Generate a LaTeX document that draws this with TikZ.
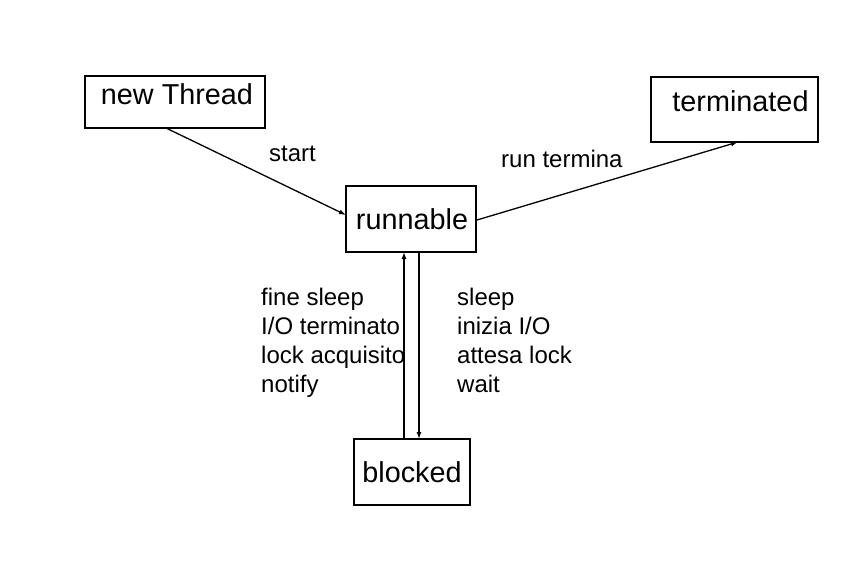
\documentclass[tikz,border=0pt]{standalone}
\usepackage{fontspec}
\setmainfont{Liberation Sans}
\usetikzlibrary{arrows.meta}
\begin{document}
\begin{tikzpicture}[x=1pt,y=-1pt,
  statebox/.style={draw,line width=1.6pt,inner sep=0pt,rectangle},
  statetext/.style={anchor=base,inner sep=0pt,font=\fontsize{28.8}{34}\selectfont},
  lbl/.style={anchor=base west,inner sep=0pt,font=\fontsize{24}{29}\selectfont},
  conn/.style={line width=1.3pt,-{Latex[length=7pt,width=5pt]}}]
\useasboundingbox (0,0) rectangle (860,576);
% boxes
\node[statebox,minimum width=180pt,minimum height=52pt] (newT) at (175,102) {};
\node[statebox,minimum width=130pt,minimum height=66pt] (run) at (411,219) {};
\node[statebox,minimum width=167pt,minimum height=65pt] (term) at (734.5,109.5) {};
\node[statebox,minimum width=116pt,minimum height=66pt] (blk) at (412,472) {};
% texts
\node[statetext] (newTt) at (177,104) {new Thread};
\node[statetext] (runt) at (412,229) {runnable};
\node[statetext] (termt) at (740.5,111) {terminated};
\node[statetext] (blkt) at (412,482) {blocked};
% anchors for connectors
\coordinate (upTop) at (404,252);
\coordinate (upBot) at (404,439);
\coordinate (dnTop) at (419,252);
\coordinate (dnBot) at (419,439);
\coordinate (startA) at (166,128);
\coordinate (startB) at (346,215);
\coordinate (termA) at (477,220);
\coordinate (termB) at (738,142);
% connectors
\draw[conn] (startA) -- (startB);
\draw[conn] (termA) -- (termB);
\draw[conn] (upBot) -- (upTop);
\draw[conn] (dnTop) -- (dnBot);
% labels
\node[lbl] (lstart) at (269,161) {start};
\node[lbl] (lrun) at (501,167) {run termina};
\node[lbl] (l1) at (261,305) {fine sleep};
\node[lbl] (l2) at (261,334.3) {I/O terminato};
\node[lbl] (l3) at (261,363.6) {lock acquisito};
\node[lbl] (l4) at (261,392.9) {notify};
\node[lbl] (r1) at (457,305) {sleep};
\node[lbl] (r2) at (457,334.3) {inizia I/O};
\node[lbl] (r3) at (457,363.6) {attesa lock};
\node[lbl] (r4) at (457,392.9) {wait};
\end{tikzpicture}
\end{document}
